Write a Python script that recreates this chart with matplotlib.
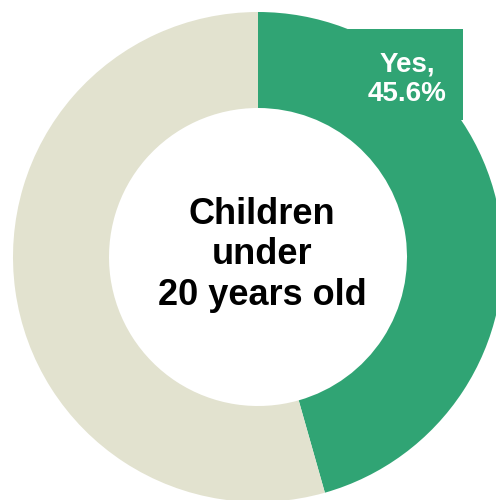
import matplotlib
matplotlib.use("Agg")
import matplotlib.pyplot as plt
from matplotlib.patches import Rectangle

# share of respondents answering Yes / No
labels = ["Yes", "No"]
shares = [45.6, 54.4]
colors = ["#30A474", "#E2E2CF"]
center_title = "Children\nunder\n20 years old"

plt.rcParams['font.family'] = ['Liberation Sans', 'DejaVu Sans']

fig = plt.figure(figsize=(4.96, 5.0), dpi=100)
ax = fig.add_axes([0, 0, 1, 1])

ax.pie(shares, colors=colors, startangle=90, counterclock=False,
       center=(258, 243), radius=245,
       wedgeprops=dict(width=96, linewidth=0))

# label box for the Yes slice
ax.add_patch(Rectangle((348, 380), 115, 91, facecolor=colors[0], edgecolor='none', zorder=3))
ax.text(407, 421, f"{labels[0]},\n{shares[0]:.1f}%", ha='center', va='center',
        fontsize=20, fontweight='bold', color='white', linespacing=1.2, zorder=4)

ax.text(262, 245, center_title, ha='center', va='center',
        fontsize=26, fontweight='bold', color='black', linespacing=1.2)

ax.set_xlim(0, 496)
ax.set_ylim(0, 500)
ax.set_aspect('auto')
ax.axis('off')

plt.savefig("out.png", dpi=100)
